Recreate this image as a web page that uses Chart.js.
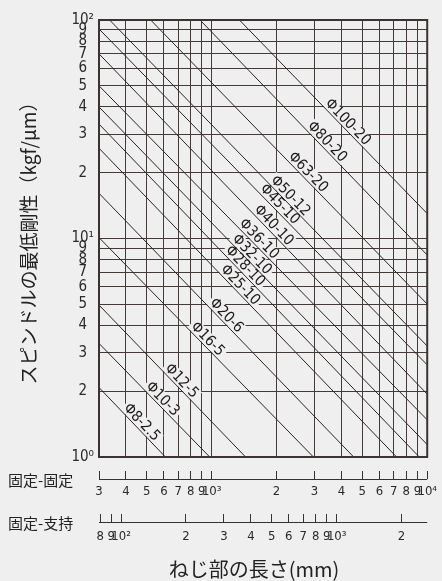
<!DOCTYPE html>
<html>
<head>
<meta charset="utf-8">
<script src="https://cdn.jsdelivr.net/npm/chart.js@4.4.1/dist/chart.umd.min.js"></script>
<style>
  html, body { margin: 0; padding: 0; background: #efefef; }
  #wrap { width: 442px; height: 581px; }
</style>
</head>
<body>
<div id="wrap"><canvas id="myChart" width="442" height="581"></canvas></div>
<script>
// screw shaft size (dia - lead)
const screwNames = ['Φ8-2.5', 'Φ10-3', 'Φ12-5', 'Φ16-5', 'Φ20-6', 'Φ25-10', 'Φ28-10', 'Φ32-10',
  'Φ36-10', 'Φ40-10', 'Φ45-10', 'Φ50-12', 'Φ63-20', 'Φ80-20', 'Φ100-20'];

// ends of each line (length on the fixed-fixed scale, mm / stiffness kgf/µm)
const startLength = [300, 300, 300, 300, 300, 300, 300, 300, 300, 300, 300, 336, 521, 883, 1345];
const startStiffness = [2.08, 3.31, 4.96, 10.1, 16.1, 25.9, 33.4, 40, 50, 70, 91, 100, 100, 100, 100];
const endLength = [610, 979, 1437, 2965, 4560, 7210, 9190, 10000, 10000, 10000, 10000, 10000, 10000, 10000, 10000];
const endStiffness = [1, 1, 1, 1, 1, 1, 1, 1.14, 1.48, 1.94, 2.64, 3.22, 5.01, 8.4, 13.0];

// y axis
const yTicks = [1, 2, 3, 4, 5, 6, 7, 8, 9, 10, 20, 30, 40, 50, 60, 70, 80, 90, 100];
const yTickLabels = ['10⁰', '2', '3', '4', '5', '6', '7', '8', '9', '10¹',
  '2', '3', '4', '5', '6', '7', '8', '9', '10²'];

// fixed-fixed length scale
const ffTicks = [300, 400, 500, 600, 700, 800, 900, 1000, 2000, 3000, 4000, 5000, 6000, 7000, 8000, 9000, 10000];
const ffTickLabels = ['3', '4', '5', '6', '7', '8', '9', '10³', '2', '3', '4', '5', '6', '7', '8', '9', '10⁴'];

// fixed-support length scale
const fsRange = [79, 2630];
const fsTicks = [80, 90, 100, 200, 300, 400, 500, 600, 700, 800, 900, 1000, 2000];
const fsTickLabels = ['8', '9', '10²', '2', '3', '4', '5', '6', '7', '8', '9', '10³', '2'];

// where each name sits along its line (0 = start, 1 = end)
const labelAt = [0.57, 0.53, 0.53, 0.484, 0.481, 0.458, 0.441, 0.451, 0.4725, 0.5176, 0.536, 0.554, 0.552, 0.538, 0.551];

const bg = '#efefef';
const ink = '#2a2422';
const gridColor = '#433b39';
const numFont = "'Liberation Sans Narrow', 'DejaVu Sans Condensed', sans-serif";
const jpFont = "'Noto Sans CJK JP', sans-serif";

function drawLabels(chart, mask) {
    const ctx = chart.ctx;
    const a = chart.chartArea;
    ctx.save();
    ctx.beginPath();
    ctx.rect(a.left, a.top, a.right - a.left, a.bottom - a.top);
    ctx.clip();
    ctx.font = '15px ' + numFont;
    screwNames.forEach((name, i) => {
        const pts = chart.getDatasetMeta(i).data;
        const x0 = pts[0].x, y0 = pts[0].y, x1 = pts[1].x, y1 = pts[1].y;
        const ang = Math.atan2(y1 - y0, x1 - x0);
        const t = labelAt[i];
        const gap = 6.5;
        const cx = x0 + (x1 - x0) * t + Math.sin(ang) * gap;
        const cy = y0 + (y1 - y0) * t - Math.cos(ang) * gap;
        ctx.save();
        ctx.translate(cx, cy);
        ctx.rotate(ang);
        if (mask) {
            const w = ctx.measureText(name).width + 4;
            ctx.fillStyle = bg;
            ctx.fillRect(-w / 2, -7, w, 13);
        } else {
            ctx.fillStyle = '#1e1a19';
            ctx.textAlign = 'center';
            ctx.textBaseline = 'middle';
            ctx.fillText(name, 0, 0);
        }
        ctx.restore();
    });
    ctx.restore();
}

const lineLabels = {
    id: 'lineLabels',
    beforeDatasetsDraw(chart) { drawLabels(chart, true); },
    afterDatasetsDraw(chart) {
        drawLabels(chart, false);
        const ctx = chart.ctx;
        const a = chart.chartArea;
        ctx.save();
        ctx.strokeStyle = '#3a3331';
        ctx.lineWidth = 2;
        ctx.strokeRect(a.left, a.top, a.right - a.left, a.bottom - a.top);
        ctx.restore();
    }
};

const lengthAxes = {
    id: 'lengthAxes',
    afterDraw(chart) {
        const ctx = chart.ctx;
        ctx.save();
        [['xff', '固定-固定'], ['xfs', '固定-支持']].forEach(([id, text]) => {
            const s = chart.scales[id];
            const y = Math.round(s.top + 8) + 0.5;
            ctx.strokeStyle = '#333';
            ctx.lineWidth = 1;
            ctx.beginPath();
            ctx.moveTo(s.left, y);
            ctx.lineTo(s.right, y);
            ctx.stroke();
            ctx.fillStyle = '#222';
            ctx.font = '15px ' + jpFont;
            ctx.textAlign = 'left';
            ctx.textBaseline = 'middle';
            ctx.fillText(text, 8, y + 1);
        });
        ctx.font = '20px ' + jpFont;
        ctx.textAlign = 'center';
        ctx.textBaseline = 'middle';
        ctx.fillText('ねじ部の長さ(mm)', 254, 569);
        ctx.restore();
    }
};

function drawChart() {
    const ctx = document.getElementById('myChart').getContext('2d');
    new Chart(ctx, {
        type: 'line',
        data: {
            datasets: screwNames.map((n, i) => ({
                label: n,
                data: [{ x: startLength[i], y: startStiffness[i] }, { x: endLength[i], y: endStiffness[i] }],
                borderColor: ink,
                borderWidth: 1,
                pointRadius: 0,
                tension: 0
            }))
        },
        options: {
            responsive: false,
            animation: false,
            layout: { padding: { top: 20, right: 10, left: 0, bottom: 0 } },
            plugins: { legend: { display: false }, tooltip: { enabled: false } },
            scales: {
                x: {
                    type: 'logarithmic', position: 'bottom', weight: 0,
                    min: 300, max: 10000,
                    afterBuildTicks: s => { s.ticks = ffTicks.map(v => ({ value: v })); },
                    afterFit: s => { s.height = 14; },
                    grid: { color: gridColor, lineWidth: 1, drawTicks: false },
                    border: { display: false },
                    ticks: { display: false }
                },
                xff: {
                    type: 'logarithmic', position: 'bottom', weight: 1,
                    min: 300, max: 10000,
                    afterBuildTicks: s => { s.ticks = ffTicks.map(v => ({ value: v })); },
                    afterFit: s => { s.height = 43; },
                    grid: { drawOnChartArea: false, drawTicks: true, tickLength: 8, tickColor: '#333', tickWidth: 1 },
                    border: { display: false },
                    ticks: {
                        callback: (v, i) => ffTickLabels[i],
                        font: { family: numFont, size: 13 }, color: '#2a2a2a',
                        padding: 5, maxRotation: 0, autoSkip: false
                    }
                },
                xfs: {
                    type: 'logarithmic', position: 'bottom', weight: 2,
                    min: fsRange[0], max: fsRange[1],
                    afterBuildTicks: s => { s.ticks = fsTicks.map(v => ({ value: v })); },
                    afterFit: s => { s.height = 67; },
                    grid: { drawOnChartArea: false, drawTicks: true, tickLength: 8, tickColor: '#333', tickWidth: 1 },
                    border: { display: false },
                    ticks: {
                        callback: (v, i) => fsTickLabels[i],
                        font: { family: numFont, size: 13 }, color: '#2a2a2a',
                        padding: 7, maxRotation: 0, autoSkip: false
                    }
                },
                y: {
                    type: 'logarithmic', min: 1, max: 100,
                    afterBuildTicks: s => { s.ticks = yTicks.map(v => ({ value: v })); },
                    afterFit: s => { s.width = 99; },
                    grid: { color: gridColor, lineWidth: 1, drawTicks: false },
                    border: { display: false },
                    ticks: {
                        callback: (v, i) => yTickLabels[i],
                        font: { family: numFont, size: 15 }, color: '#2a2a2a',
                        padding: 5, crossAlign: 'center', autoSkip: false
                    },
                    title: {
                        display: true, text: 'スピンドルの最低剛性（kgf/μm）',
                        font: { family: jpFont, size: 19 }, color: '#222',
                        padding: { top: 17, bottom: 0 }
                    }
                }
            }
        },
        plugins: [lineLabels, lengthAxes]
    });
}

document.addEventListener('DOMContentLoaded', drawChart);
</script>
</body>
</html>
